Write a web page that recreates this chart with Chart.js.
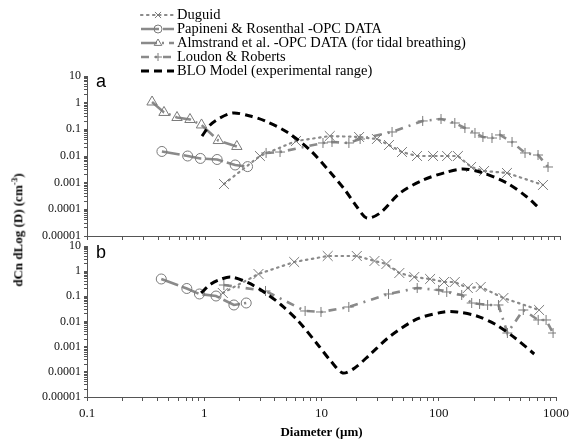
<!DOCTYPE html>
<html>
<head>
<meta charset="utf-8">
<script src="https://cdn.jsdelivr.net/npm/chart.js@4.4.1/dist/chart.umd.min.js"></script>
<style>
  body { margin: 0; background: #fff; }
  #wrap { position: relative; width: 574px; height: 441px; }
  canvas { position: absolute; left: 0; top: 0; }
  #ytitle {
    position: absolute; left: 18px; top: 230px;
    transform: translate(-50%, -50%) rotate(-90deg);
    font: bold 13px "Liberation Serif", "Times New Roman", serif;
    white-space: nowrap; color: #000;
  }
  #ytitle sup { font-size: 9px; }
</style>
</head>
<body>
<div id="wrap">
  <canvas id="chartA" width="574" height="441"></canvas>
  <canvas id="chartB" width="574" height="441"></canvas>
  <div id="ytitle">dCn dLog (D) (cm<sup>-3</sup>)</div>
</div>
<script>
// axis ticks
const diameterTicks = [0.1, 1, 10, 100, 1000];
const diameterTickLabels = ['0.1', '1', '10', '100', '1000'];
const concTicks = [0.00001, 0.0001, 0.001, 0.01, 0.1, 1, 10];
const concTickLabels = ['0.00001', '0.0001', '0.001', '0.01', '0.1', '1', '10'];

const seriesNames = [
  'Duguid',
  'Papineni & Rosenthal -OPC DATA',
  'Almstrand et al. -OPC DATA (for tidal breathing)',
  'Loudon & Roberts',
  'BLO Model (experimental range)'
];

// Duguid (same diameters in both panels)
const duguidD = [1.44, 2.90, 5.85, 11.3, 20.0, 28.3, 35.8, 46.1, 61.8, 84.4, 111, 137, 177, 228, 356, 718];
const duguidA = [0.00089, 0.0100, 0.0365, 0.056, 0.0516, 0.0434, 0.0259, 0.0141, 0.0100, 0.0100, 0.0100, 0.0100, 0.00387, 0.00274, 0.00231, 0.00082];
const duguidB = [0.136, 0.773, 2.31, 4.01, 4.01, 2.54, 1.93, 0.845, 0.586, 0.489, 0.371, 0.371, 0.214, 0.235, 0.0859, 0.0286];

// Papineni & Rosenthal
const papineniD = [0.43, 0.71, 0.91, 1.26, 1.79, 2.28];
const papineniA = [0.0148, 0.0100, 0.0081, 0.0074, 0.0046, 0.0040];
const papineniB = [0.489, 0.205, 0.124, 0.103, 0.0453, 0.0544];

// Almstrand (panel a only)
const almstrandD = [0.355, 0.448, 0.577, 0.743, 0.93, 1.29, 1.85];
const almstrandA = [1.06, 0.43, 0.278, 0.234, 0.146, 0.038, 0.0228];

// Loudon & Roberts
const loudonDA = [3.27, 4.29, 9.9, 11.8, 16.4, 20.4, 38, 69, 98.6, 129, 157, 191, 223, 266, 311, 393, 506, 652, 792];
const loudonA = [0.013, 0.0141, 0.0308, 0.0335, 0.0308, 0.0434, 0.0795, 0.206, 0.244, 0.173, 0.112, 0.073, 0.0516, 0.0473, 0.0614, 0.0335, 0.013, 0.0109, 0.00387];
const loudonDB = [1.47, 3.33, 7.25, 9.9, 17.1, 37.3, 65.5, 100, 117, 157, 191, 223, 261, 323, 385, 526, 705, 823, 944];
const loudonB = [0.282, 0.163, 0.0262, 0.0239, 0.0377, 0.124, 0.214, 0.179, 0.149, 0.113, 0.0543, 0.0496, 0.0453, 0.0453, 0.00349, 0.0286, 0.0115, 0.0115, 0.00349];

// BLO model
const bloDA = [0.939, 1.10, 1.33, 1.72, 2.39, 3.20, 4.91, 7.69, 11.35, 15.2, 19.2, 23.3, 30.1, 44.4, 69.5, 111, 151, 211, 356, 526, 652];
const bloA = [0.056, 0.146, 0.266, 0.41, 0.316, 0.206, 0.0794, 0.0168, 0.00251, 0.00053, 0.000122, 0.0000473, 0.0000729, 0.00041, 0.00126, 0.00251, 0.00326, 0.00251, 0.00097, 0.00029, 0.000122];
const bloDB = [0.939, 1.14, 1.33, 1.68, 2.39, 3.33, 4.54, 6.33, 9.34, 12.0, 15.2, 19.2, 26.2, 38.7, 65.5, 111, 143, 211, 311, 459, 652];
const bloB = [0.136, 0.309, 0.446, 0.586, 0.339, 0.136, 0.0453, 0.0105, 0.00117, 0.00027, 0.00009, 0.000142, 0.000512, 0.00265, 0.0126, 0.0239, 0.0239, 0.0166, 0.00726, 0.00202, 0.000512];

const GREY = '#8a8a8a';
const MARK = '#7a7a7a';

const pts = (xs, ys) => xs.map((x, i) => ({ x: x, y: ys[i] }));

// series looks
const looks = {
  duguid: { borderColor: GREY, borderWidth: 2.2, borderDash: [1.5, 4.5], borderCapStyle: 'round',
    pointStyle: 'crossRot', pointRadius: 7, pointBorderColor: MARK, pointBorderWidth: 1 },
  papineni: { borderColor: GREY, borderWidth: 2.6, borderDash: [18, 4],
    pointStyle: 'circle', pointRadius: 5, pointBorderColor: MARK, pointBorderWidth: 1 },
  almstrand: { borderColor: GREY, borderWidth: 2.6, borderDash: [16, 5, 2, 5],
    pointStyle: 'triangle', pointRadius: 6, pointBorderColor: MARK, pointBorderWidth: 1 },
  loudon: { borderColor: GREY, borderWidth: 2.6, borderDash: [8, 6, 2, 6],
    pointStyle: 'cross', pointRadius: 5, pointBorderColor: MARK, pointBorderWidth: 1 },
  blo: { borderColor: '#000', borderWidth: 3, borderDash: [8, 5], pointRadius: 0, tension: 0.3 }
};

function series(label, look, data, order) {
  return Object.assign({ label: label, data: data, showLine: true, fill: false,
    pointBackgroundColor: 'rgba(255,255,255,0)', order: order, tension: 0 }, look);
}

function logTicks(majors) {
  const out = [];
  majors.forEach((m, i) => {
    out.push({ value: m, major: true });
    if (i < majors.length - 1) {
      for (let k = 2; k <= 9; k++) out.push({ value: m * k, major: false });
    }
  });
  return out;
}

function drawMarker(ctx, style, x, y, r) {
  ctx.beginPath();
  if (style === 'circle') {
    ctx.arc(x, y, r, 0, Math.PI * 2);
  } else if (style === 'triangle') {
    ctx.moveTo(x, y - r);
    ctx.lineTo(x + r * 0.95, y + r * 0.6);
    ctx.lineTo(x - r * 0.95, y + r * 0.6);
    ctx.closePath();
  } else if (style === 'cross') {
    ctx.moveTo(x - r, y); ctx.lineTo(x + r, y);
    ctx.moveTo(x, y - r); ctx.lineTo(x, y + r);
  } else if (style === 'crossRot') {
    const d = r * 0.7;
    ctx.moveTo(x - d, y - d); ctx.lineTo(x + d, y + d);
    ctx.moveTo(x - d, y + d); ctx.lineTo(x + d, y - d);
  }
  ctx.stroke();
}

const lineLegend = {
  id: 'lineLegend',
  afterDraw(chart, args, opts) {
    const ctx = chart.ctx;
    chart.data.datasets.forEach((ds, i) => {
      const y = opts.top + i * opts.rowHeight;
      ctx.save();
      ctx.strokeStyle = ds.borderColor;
      ctx.lineWidth = ds.borderWidth;
      ctx.lineCap = ds.borderCapStyle || 'butt';
      ctx.setLineDash(ds.borderDash || []);
      ctx.beginPath();
      ctx.moveTo(opts.x0, y);
      ctx.lineTo(opts.x1, y);
      ctx.stroke();
      ctx.setLineDash([]);
      if (ds.pointRadius > 0) {
        ctx.strokeStyle = ds.pointBorderColor;
        ctx.lineWidth = 1;
        drawMarker(ctx, ds.pointStyle, opts.markerX, y, 4);
      }
      ctx.fillStyle = '#000';
      ctx.font = '14.5px "Liberation Serif", "Times New Roman", serif';
      ctx.textBaseline = 'middle';
      ctx.fillText(ds.label, opts.textX, y);
      ctx.restore();
    });
  }
};

const panelLetter = {
  id: 'panelLetter',
  afterDraw(chart, args, opts) {
    const ctx = chart.ctx;
    ctx.save();
    ctx.font = '18px "Liberation Sans", Arial, sans-serif';
    ctx.fillStyle = '#000';
    ctx.fillText(opts.text, opts.x, opts.y);
    ctx.restore();
  }
};

function scales(showXLabels, xHeight, withTitle) {
  const axisColor = '#555';
  return {
    x: {
      type: 'logarithmic', min: 0.1, max: 1000,
      afterBuildTicks: s => { s.ticks = logTicks(diameterTicks); },
      afterFit: s => { s.height = xHeight; },
      ticks: {
        autoSkip: false, maxRotation: 0, padding: 5, color: '#111',
        font: { family: '"Liberation Serif", "Times New Roman", serif', size: 13 },
        callback: v => {
          if (!showXLabels) return '';
          const i = diameterTicks.indexOf(v);
          return i >= 0 ? diameterTickLabels[i] : '';
        }
      },
      grid: { drawOnChartArea: false, drawTicks: true, tickLength: 4, tickColor: axisColor },
      border: { display: true, color: axisColor, width: 1 },
      title: {
        display: withTitle, text: 'Diameter (µm)', color: '#000',
        font: { family: '"Liberation Serif", "Times New Roman", serif', size: 13, weight: 'bold' },
        padding: { top: 0, bottom: 1 }
      }
    },
    y: {
      type: 'logarithmic', min: 0.00001, max: 10,
      afterBuildTicks: s => { s.ticks = logTicks(concTicks); },
      afterFit: s => { s.width = 87; },
      ticks: {
        autoSkip: false, padding: 3, color: '#111',
        font: { family: '"Liberation Serif", "Times New Roman", serif', size: 12 },
        callback: v => {
          const i = concTicks.indexOf(v);
          return i >= 0 ? concTickLabels[i] : '';
        }
      },
      grid: { drawOnChartArea: false, drawTicks: true, tickLength: 3, tickColor: axisColor },
      border: { display: true, color: axisColor, width: 1 }
    }
  };
}

const chartA = new Chart(document.getElementById('chartA'), {
  type: 'scatter',
  data: {
    datasets: [
      series(seriesNames[0], looks.duguid, pts(duguidD, duguidA), 2),
      series(seriesNames[1], looks.papineni, pts(papineniD, papineniA), 3),
      series(seriesNames[2], looks.almstrand, pts(almstrandD, almstrandA), 4),
      series(seriesNames[3], looks.loudon, pts(loudonDA, loudonA), 5),
      series(seriesNames[4], looks.blo, pts(bloDA, bloA), 1)
    ]
  },
  options: {
    responsive: false, animation: false, devicePixelRatio: 1,
    layout: { padding: { top: 76, right: 14, bottom: 197, left: 0 } },
    scales: scales(false, 8, false),
    plugins: {
      legend: { display: false }, tooltip: { enabled: false },
      lineLegend: { top: 15, rowHeight: 14, x0: 141, x1: 174, markerX: 158, textX: 177 },
      panelLetter: { text: 'a', x: 96, y: 87 }
    }
  },
  plugins: [lineLegend, panelLetter]
});

const chartB = new Chart(document.getElementById('chartB'), {
  type: 'scatter',
  data: {
    datasets: [
      series(seriesNames[0], looks.duguid, pts(duguidD, duguidB), 2),
      series(seriesNames[1], looks.papineni, pts(papineniD, papineniB), 3),
      series(seriesNames[3], looks.loudon, pts(loudonDB, loudonB), 5),
      series(seriesNames[4], looks.blo, pts(bloDB, bloB), 1)
    ]
  },
  options: {
    responsive: false, animation: false, devicePixelRatio: 1,
    layout: { padding: { top: 246, right: 14, bottom: 0, left: 0 } },
    scales: scales(true, 44, true),
    plugins: {
      legend: { display: false }, tooltip: { enabled: false },
      panelLetter: { text: 'b', x: 96, y: 258 }
    }
  },
  plugins: [panelLetter]
});
</script>
</body>
</html>
